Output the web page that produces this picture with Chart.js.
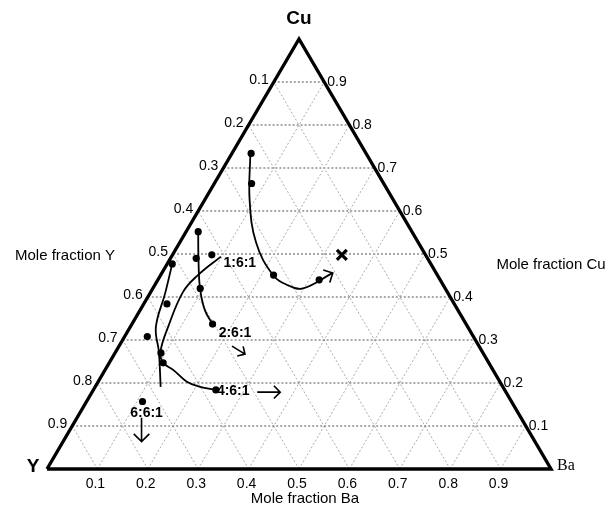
<!DOCTYPE html>
<html>
<head>
<meta charset="utf-8">
<script src="https://cdn.jsdelivr.net/npm/chart.js@4.4.0/dist/chart.umd.min.js"></script>
<style>
  body { margin: 0; background: #fff; }
  #wrap { width: 612px; height: 506px; }
</style>
</head>
<body>
<div id="wrap"><canvas id="myChart" width="612" height="506"></canvas></div>
<script>
// Tick values used on all three sides of the triangle
const ticks = [0.1, 0.2, 0.3, 0.4, 0.5, 0.6, 0.7, 0.8, 0.9];
const tickLabels = ['0.1', '0.2', '0.3', '0.4', '0.5', '0.6', '0.7', '0.8', '0.9'];

// Measured compositions (mole fraction Ba, mole fraction Cu; Y = 1 - Ba - Cu)
const dotBa = [0.038, 0.074, 0.224, 0.320, 0.024, 0.051, 0.078, 0.010, 0.094, 0.046, 0.160, 0.045, 0.091, 0.107, 0.243, 0.111];
const dotCu = [0.734, 0.664, 0.451, 0.440, 0.552, 0.490, 0.498, 0.477, 0.420, 0.384, 0.337, 0.308, 0.270, 0.247, 0.184, 0.157];

// Target composition (X)
const targetBa = [0.336];
const targetCu = [0.498];

// Trend curves
const curveABa = [0.036, 0.089, 0.152, 0.223, 0.265, 0.298, 0.339];
const curveACu = [0.735, 0.626, 0.526, 0.451, 0.427, 0.420, 0.456];
const curveBBa = [0.024, 0.055, 0.093, 0.128, 0.160];
const curveBCu = [0.552, 0.491, 0.421, 0.370, 0.337];
const curveCBa = [0.010, 0.030, 0.051, 0.086, 0.130];
const curveCCu = [0.477, 0.409, 0.330, 0.272, 0.191];
const curveDBa = [0.098, 0.074, 0.064, 0.075, 0.089, 0.107, 0.136, 0.176, 0.208, 0.243];
const curveDCu = [0.494, 0.451, 0.412, 0.331, 0.272, 0.247, 0.230, 0.203, 0.191, 0.184];

// Starting ratio labels
const ratioLabels = ['1:6:1', '2:6:1', '4:6:1', '6:6:1'];
const ratioBa = [0.143, 0.215, 0.279, 0.132];
const ratioCu = [0.479, 0.316, 0.181, 0.131];

// ternary (Ba, Cu) -> cartesian
function tern(ba, cu) {
    return { x: ba + cu / 2, y: cu };
}
function toPoints(baArr, cuArr) {
    return baArr.map((b, i) => tern(b, cuArr[i]));
}

// Grid lines built from the tick values
const gridSets = [];
ticks.forEach(t => {
    // constant Cu
    gridSets.push({ data: [tern(0, t), tern(1 - t, t)], borderColor: '#555', borderDash: [2, 2] });
    // constant Ba
    gridSets.push({ data: [tern(t, 0), tern(t, 1 - t)], borderColor: '#aaa', borderDash: [2, 2] });
    // constant Y
    gridSets.push({ data: [tern(1 - t, 0), tern(0, 1 - t)], borderColor: '#aaa', borderDash: [2, 2] });
});
gridSets.forEach(d => {
    d.showLine = true;
    d.pointRadius = 0;
    d.borderWidth = 1;
    d.clip = false;
    d.order = 10;
});

function curveSet(ba, cu) {
    return {
        data: toPoints(ba, cu),
        showLine: true,
        pointRadius: 0,
        borderColor: '#000',
        borderWidth: 1.8,
        tension: 0.4,
        clip: false,
        order: 3
    };
}

const curves = [
    curveSet(curveABa, curveACu),
    curveSet(curveBBa, curveBCu),
    curveSet(curveCBa, curveCCu),
    curveSet(curveDBa, curveDCu)
];

// Triangle outline
const outline = {
    data: [tern(0, 0), tern(1, 0), tern(0, 1), tern(0, 0)],
    showLine: true,
    pointRadius: 0,
    borderColor: '#000',
    borderWidth: 3.4,
    clip: false,
    order: 5
};

const dots = {
    data: toPoints(dotBa, dotCu),
    showLine: false,
    pointRadius: 3.6,
    pointBackgroundColor: '#000',
    pointBorderWidth: 0,
    clip: false,
    order: 1
};

const target = {
    data: toPoints(targetBa, targetCu),
    showLine: false,
    pointStyle: 'crossRot',
    pointRadius: 7,
    pointBorderColor: '#000',
    pointBorderWidth: 3.2,
    clip: false,
    order: 1
};

function arrow(ctx, x1, y1, x2, y2, head) {
    const a = Math.atan2(y2 - y1, x2 - x1);
    ctx.beginPath();
    ctx.moveTo(x1, y1);
    ctx.lineTo(x2, y2);
    ctx.moveTo(x2 - head * Math.cos(a - Math.PI / 4), y2 - head * Math.sin(a - Math.PI / 4));
    ctx.lineTo(x2, y2);
    ctx.lineTo(x2 - head * Math.cos(a + Math.PI / 4), y2 - head * Math.sin(a + Math.PI / 4));
    ctx.stroke();
}

// Draws axis numbers, titles, ratio labels and arrows
const ternaryText = {
    id: 'ternaryText',
    afterDatasetsDraw(chart) {
        const ctx = chart.ctx;
        const xs = chart.scales.x, ys = chart.scales.y;
        const px = (ba, cu) => [xs.getPixelForValue(ba + cu / 2), ys.getPixelForValue(cu)];
        const sans = '"Liberation Sans", Arial, sans-serif';
        ctx.save();
        ctx.fillStyle = '#000';
        ctx.strokeStyle = '#000';

        // tick numbers
        ctx.font = '14px ' + sans;
        ticks.forEach((t, i) => {
            // left side: mole fraction Y
            let p = px(0, 1 - t);
            ctx.textAlign = 'right';
            ctx.textBaseline = 'middle';
            ctx.fillText(tickLabels[i], p[0] - 5, p[1] - 2);
            // right side: mole fraction Cu
            p = px(1 - t, t);
            ctx.textAlign = 'left';
            ctx.fillText(tickLabels[i], p[0] + 3, p[1]);
            // bottom: mole fraction Ba
            p = px(t, 0);
            ctx.textAlign = 'center';
            ctx.fillText(tickLabels[i], p[0] - 2, p[1] + 15);
        });

        // corner labels
        const top = px(0, 1), left = px(0, 0), right = px(1, 0);
        ctx.font = 'bold 19px ' + sans;
        ctx.textAlign = 'center';
        ctx.textBaseline = 'middle';
        ctx.fillText('Cu', top[0], top[1] - 20);
        ctx.fillText('Y', left[0] - 14, left[1] - 2);
        ctx.font = '16px "Liberation Serif", "Times New Roman", serif';
        ctx.fillText('Ba', right[0] + 15, right[1] - 3);

        // axis titles
        ctx.font = '15px ' + sans;
        ctx.fillText('Mole fraction Y', 65, 256);
        ctx.fillText('Mole fraction Cu', 551, 265);
        ctx.fillText('Mole fraction Ba', 305, 499);

        // ratio labels
        ctx.font = 'bold 14px ' + sans;
        const lp = ratioLabels.map((s, i) => px(ratioBa[i], ratioCu[i]));
        ratioLabels.forEach((s, i) => ctx.fillText(s, lp[i][0], lp[i][1]));

        // arrows
        ctx.lineWidth = 1.6;
        arrow(ctx, lp[1][0] - 3, lp[1][1] + 13, lp[1][0] + 10, lp[1][1] + 21, 8);
        arrow(ctx, lp[2][0] + 24, lp[2][1] + 1, lp[2][0] + 47, lp[2][1] + 1, 9);
        arrow(ctx, lp[3][0] - 5, lp[3][1] + 5, lp[3][0] - 5, lp[3][1] + 29, 11);

        // arrow head at the end of the upper curve
        const n = curveABa.length;
        const a1 = px(curveABa[n - 2], curveACu[n - 2]);
        const a2 = px(curveABa[n - 1], curveACu[n - 1]);
        const ang = Math.atan2(a2[1] - a1[1], a2[0] - a1[0]);
        ctx.beginPath();
        ctx.moveTo(a2[0] - 10 * Math.cos(ang - Math.PI / 4), a2[1] - 10 * Math.sin(ang - Math.PI / 4));
        ctx.lineTo(a2[0], a2[1]);
        ctx.lineTo(a2[0] - 10 * Math.cos(ang + Math.PI / 4), a2[1] - 10 * Math.sin(ang + Math.PI / 4));
        ctx.stroke();

        ctx.restore();
    }
};

new Chart(document.getElementById('myChart'), {
    type: 'scatter',
    data: {
        datasets: [...gridSets, outline, ...curves, dots, target]
    },
    options: {
        responsive: false,
        animation: false,
        layout: {
            padding: { left: 47, right: 61, top: 39, bottom: 37 }
        },
        scales: {
            x: { type: 'linear', min: 0, max: 1, display: false },
            y: { type: 'linear', min: 0, max: 1, display: false }
        },
        plugins: {
            legend: { display: false },
            tooltip: { enabled: false }
        }
    },
    plugins: [ternaryText]
});
</script>
</body>
</html>
